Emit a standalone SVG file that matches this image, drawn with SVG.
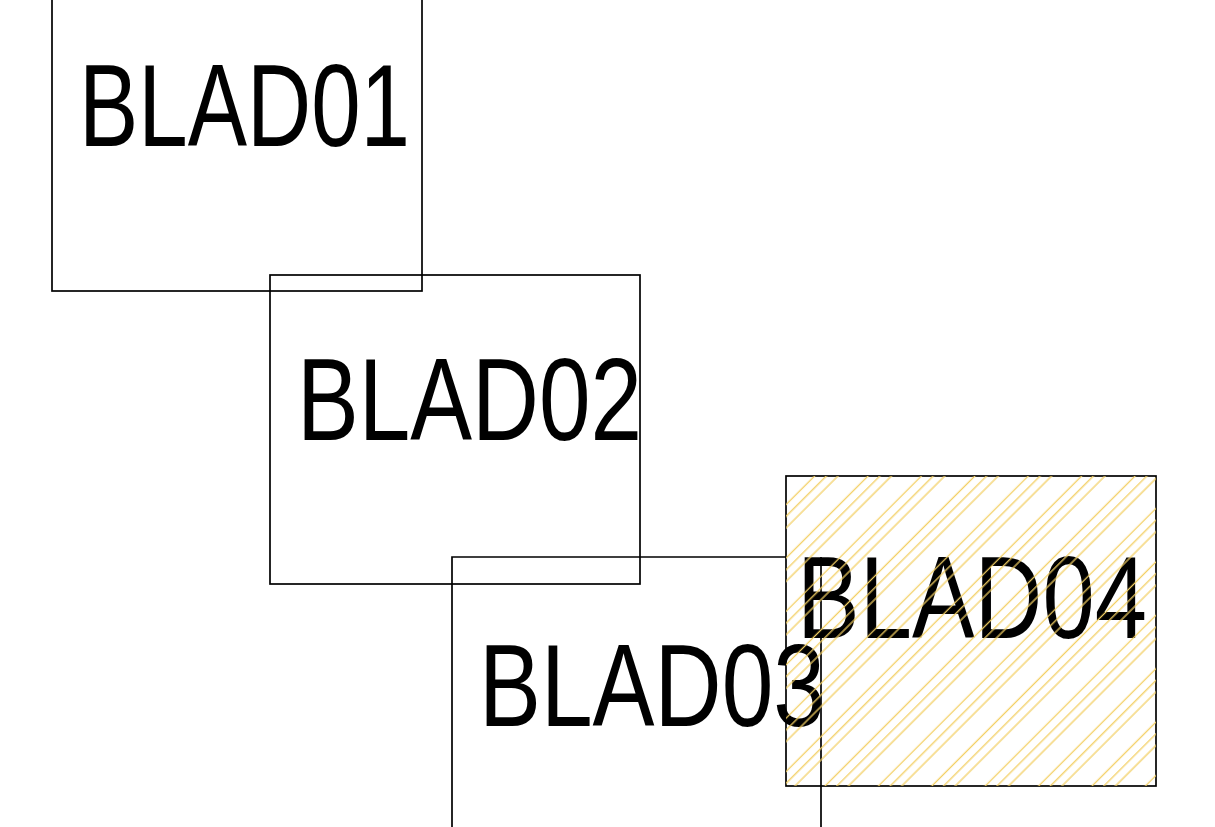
<svg xmlns="http://www.w3.org/2000/svg" width="1215" height="827" viewBox="0 0 1215 827">
<defs>
<style>
.box{fill:none;stroke:#000;stroke-width:1.7}
.lbl{font-family:"Liberation Sans Narrow","Liberation Sans",Arial,sans-serif;font-size:117px;fill:#000}
</style>
<pattern id="hatch" patternUnits="userSpaceOnUse" width="37.76" height="40" patternTransform="rotate(45)">
<g stroke="#f3cf62" stroke-width="1.3">
<line x1="6.4" y1="-5" x2="6.4" y2="45"/>
<line x1="14.7" y1="-5" x2="14.7" y2="45"/>
<line x1="22.9" y1="-5" x2="22.9" y2="45"/>
</g>
</pattern>
</defs>
<rect width="1215" height="827" fill="#fff"/>
<g id="BLAD01">
<rect class="box" x="52" y="-18" width="370" height="309"/>
<text class="lbl" x="79" y="146" textLength="331" lengthAdjust="spacingAndGlyphs">BLAD01</text>
</g>
<g id="BLAD02">
<rect class="box" x="270" y="275" width="370" height="309"/>
<text class="lbl" x="297" y="440" textLength="345" lengthAdjust="spacingAndGlyphs">BLAD02</text>
</g>
<g id="BLAD03">
<path class="box" d="M786,557 H452 V840 M821,840 V557"/>
<text class="lbl" x="479" y="726" textLength="346" lengthAdjust="spacingAndGlyphs">BLAD03</text>
</g>
<g id="BLAD04">
<rect class="box" x="786" y="476" width="370" height="310"/>
<text class="lbl" x="797" y="638" textLength="350" lengthAdjust="spacingAndGlyphs">BLAD04</text>
<rect x="786" y="476" width="370" height="310" fill="url(#hatch)"/>
</g>
<g id="connectors"/>
</svg>
